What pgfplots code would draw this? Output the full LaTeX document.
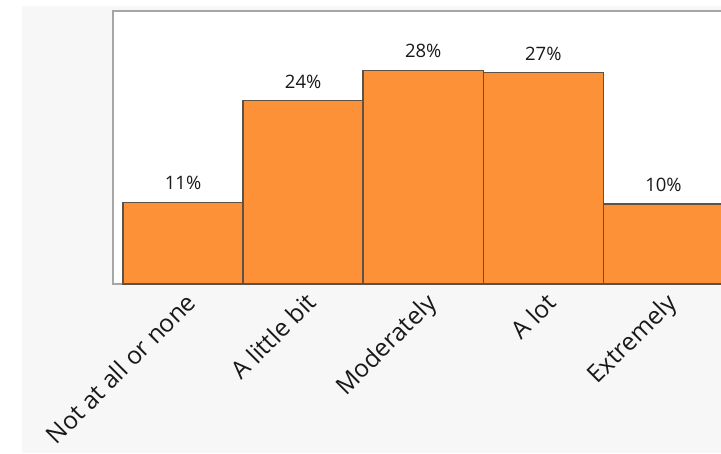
\documentclass[border=0pt]{standalone}
\usepackage{fontspec}
\setmainfont{Open Sans}
\usepackage{pgfplots}
\pgfplotsset{compat=1.18}
\definecolor{bg}{HTML}{F7F7F7}
\definecolor{barfill}{HTML}{FC9138}
\definecolor{bardraw}{HTML}{5E5246}
\definecolor{axisgrey}{HTML}{A6A6A6}
\begin{document}
\begin{tikzpicture}[x=1pt,y=1pt]
\fill[bg] (22,0) rectangle (721,447);
\begin{axis}[
 at={(112.5pt,169pt)}, anchor=south west,
 scale only axis, width=621.5pt, height=273pt,
 xmin=-0.5875, xmax=4.5875, ymin=0, ymax=35.4,
 axis background/.style={fill=white},
 axis line style={draw=axisgrey, line width=2pt},
 ytick=\empty,
 xtick={0,1,2,3,4},
 xticklabels={Not at all or none, A little bit, Moderately, A lot, Extremely},
 major tick length=0pt,
 x tick label style={font=\fontsize{24.5}{29}\selectfont, text=black!90, inner sep=0pt, xshift=1.5pt, yshift=-7pt, rotate=45, anchor=north east},
]
\addplot[ybar, bar width=1, fill=barfill, draw=bardraw, line width=1.5pt,
  point meta=explicit symbolic, nodes near coords,
  every node near coord/.append style={font=\fontsize{18.5}{22}\selectfont, text=black!90, inner sep=0pt, yshift=11.5pt}]
 coordinates {(0,10.6) [11\%] (1,23.8) [24\%] (2,27.7) [28\%] (3,27.4) [27\%] (4,10.4) [10\%]};
\end{axis}
\pgfresetboundingbox
\path[use as bounding box] (0,0) rectangle (721,453);
\end{tikzpicture}
\end{document}
